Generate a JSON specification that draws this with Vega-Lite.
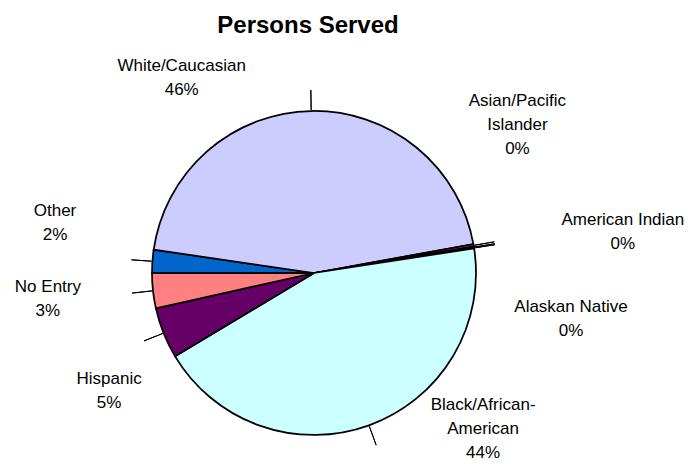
{
  "$schema": "https://vega.github.io/schema/vega-lite/v6.json",
  "autosize": "none",
  "width": 628,
  "height": 326,
  "padding": {"left": 0, "top": 110, "right": 64, "bottom": 28},
  "background": "white",
  "title": {
    "text": "Persons Served",
    "font": "Liberation Sans",
    "fontSize": 24,
    "fontWeight": "bold",
    "color": "black",
    "anchor": "middle",
    "dx": -6,
    "offset": 19
  },
  "data": {
    "values": [
      {"cat": "Other", "value": 2.3, "ord": 1, "label": "Other\n2%"},
      {"cat": "White/Caucasian", "value": 44.85, "ord": 2, "label": "White/Caucasian\n46%"},
      {"cat": "Asian/Pacific Islander", "value": 0.25, "ord": 3, "label": "Asian/Pacific\nIslander\n0%"},
      {"cat": "American Indian", "value": 0.09, "ord": 4, "label": "American Indian\n0%"},
      {"cat": "Alaskan Native", "value": 0.08, "ord": 5, "label": "Alaskan Native\n0%"},
      {"cat": "Black/African-American", "value": 43.83, "ord": 6, "label": "Black/African-\nAmerican\n44%"},
      {"cat": "Hispanic", "value": 5.1, "ord": 7, "label": "Hispanic\n5%"},
      {"cat": "No Entry", "value": 3.5, "ord": 8, "label": "No Entry\n3%"}
    ]
  },
  "transform": [
    {"stack": "value", "groupby": [], "sort": [{"field": "ord", "order": "ascending"}], "as": ["v0", "v1"]}
  ],
  "encoding": {
    "theta": {"field": "v0", "type": "quantitative", "scale": {"domain": [0, 100], "range": [4.712389, 10.995574]}}
  },
  "layer": [
    {
      "mark": {"type": "arc", "outerRadius": 162, "stroke": "black", "strokeWidth": 1.75},
      "encoding": {
        "theta2": {"field": "v1"},
        "color": {
          "field": "cat",
          "type": "nominal",
          "legend": null,
          "scale": {
            "domain": ["Other", "White/Caucasian", "Asian/Pacific Islander", "American Indian", "Alaskan Native", "Black/African-American", "Hispanic", "No Entry"],
            "range": ["#0066CC", "#CCCCFF", "#993366", "#FFFFCC", "#9999FF", "#CCFFFF", "#660066", "#FF8080"]
          }
        }
      }
    },
    {
      "mark": {"type": "arc", "innerRadius": 163, "outerRadius": 183, "padAngle": 3, "filled": false, "color": "black", "strokeWidth": 1},
      "encoding": {"theta2": {"field": "v1"}}
    },
    {
      "transform": [{"filter": "datum.cat === 'Other'"}],
      "mark": {"type": "text", "font": "Liberation Sans", "fontSize": 17, "lineHeight": 24, "lineBreak": "\n", "align": "center", "baseline": "middle", "color": "black", "dx": -97, "dy": -62},
      "encoding": {"radius": {"value": 162}, "text": {"field": "label"}}
    },
    {
      "transform": [{"filter": "datum.cat === 'White/Caucasian'"}],
      "mark": {"type": "text", "font": "Liberation Sans", "fontSize": 17, "lineHeight": 24, "lineBreak": "\n", "align": "center", "baseline": "middle", "color": "black", "dx": 28, "dy": -184},
      "encoding": {"radius": {"value": 162}, "text": {"field": "label"}}
    },
    {
      "transform": [{"filter": "datum.cat === 'Asian/Pacific Islander'"}],
      "mark": {"type": "text", "font": "Liberation Sans", "fontSize": 17, "lineHeight": 24, "lineBreak": "\n", "align": "center", "baseline": "middle", "color": "black", "dx": 44, "dy": -143},
      "encoding": {"radius": {"value": 162}, "text": {"field": "label"}}
    },
    {
      "transform": [{"filter": "datum.cat === 'American Indian'"}],
      "mark": {"type": "text", "font": "Liberation Sans", "fontSize": 17, "lineHeight": 24, "lineBreak": "\n", "align": "center", "baseline": "middle", "color": "black", "dx": 149, "dy": -27},
      "encoding": {"radius": {"value": 162}, "text": {"field": "label"}}
    },
    {
      "transform": [{"filter": "datum.cat === 'Alaskan Native'"}],
      "mark": {"type": "text", "font": "Liberation Sans", "fontSize": 17, "lineHeight": 24, "lineBreak": "\n", "align": "center", "baseline": "middle", "color": "black", "dx": 97, "dy": 59},
      "encoding": {"radius": {"value": 162}, "text": {"field": "label"}}
    },
    {
      "transform": [{"filter": "datum.cat === 'Black/African-American'"}],
      "mark": {"type": "text", "font": "Liberation Sans", "fontSize": 17, "lineHeight": 24, "lineBreak": "\n", "align": "center", "baseline": "middle", "color": "black", "dx": 9, "dy": 157},
      "encoding": {"radius": {"value": 162}, "text": {"field": "label"}}
    },
    {
      "transform": [{"filter": "datum.cat === 'Hispanic'"}],
      "mark": {"type": "text", "font": "Liberation Sans", "fontSize": 17, "lineHeight": 24, "lineBreak": "\n", "align": "center", "baseline": "middle", "color": "black", "dx": -66, "dy": 23},
      "encoding": {"radius": {"value": 162}, "text": {"field": "label"}}
    },
    {
      "transform": [{"filter": "datum.cat === 'No Entry'"}],
      "mark": {"type": "text", "font": "Liberation Sans", "fontSize": 17, "lineHeight": 24, "lineBreak": "\n", "align": "center", "baseline": "middle", "color": "black", "dx": -108, "dy": -21},
      "encoding": {"radius": {"value": 162}, "text": {"field": "label"}}
    }
  ],
  "config": {"view": {"stroke": null}}
}
